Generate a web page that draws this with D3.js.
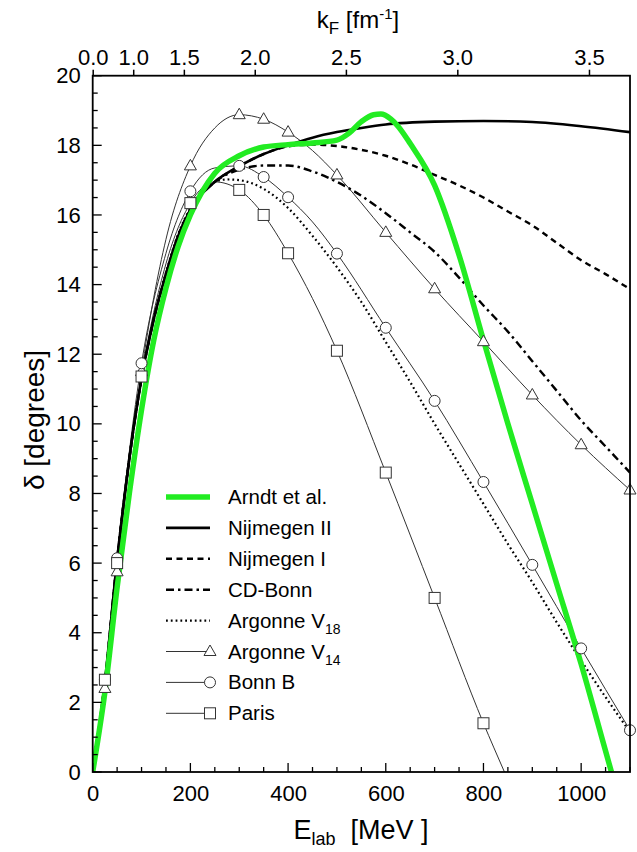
<!DOCTYPE html>
<html><head><meta charset="utf-8">
<script src="https://cdn.jsdelivr.net/npm/d3@7"></script>
<style>body{margin:0;background:#fff}svg{display:block}text{font-family:"Liberation Sans",Arial,Helvetica,sans-serif}</style>
</head><body><svg id="c" width="637" height="852"></svg>
<script>
// ---- data (E_lab in MeV, phase shift in degrees) ----
const arndt = [[0,0],[25,2.3],[50,5.3],[75,8.0],[100,10.4],[125,12.4],[150,13.9],[175,15.1],[200,16.0],[250,17.2],[300,17.7],[350,17.95],[400,18.02],[450,18.07],[500,18.15],[525,18.35],[550,18.68],[575,18.88],[590,18.9],[610,18.76],[625,18.55],[650,18.05],[700,16.85],[750,14.85],[800,12.4],[850,10.0],[900,7.7],[950,5.4],[1000,3.1],[1050,0.6],[1062,0]];
const nijmegen2 = [[0,0],[25,2.6],[50,6.1],[75,9.0],[100,11.3],[125,13.0],[150,14.3],[175,15.4],[200,16.15],[250,16.95],[300,17.4],[350,17.75],[400,18.0],[450,18.22],[500,18.38],[550,18.5],[600,18.6],[700,18.68],[800,18.7],[900,18.67],[1000,18.55],[1100,18.38]];
const nijmegen1 = [[0,0],[25,2.6],[50,6.1],[75,9.0],[100,11.3],[125,13.0],[150,14.3],[175,15.4],[200,16.15],[250,16.95],[300,17.4],[350,17.75],[400,17.97],[450,18.02],[500,17.98],[550,17.87],[600,17.7],[650,17.45],[700,17.15],[750,16.85],[800,16.5],[850,16.1],[900,15.7],[950,15.2],[1000,14.7],[1050,14.3],[1100,13.87]];
const cdBonn = [[0,0],[25,2.6],[50,6.1],[75,9.0],[100,11.3],[125,13.0],[150,14.3],[175,15.4],[200,16.15],[250,16.95],[300,17.3],[350,17.42],[400,17.42],[450,17.25],[500,16.95],[550,16.55],[600,16.05],[650,15.5],[700,14.94],[750,14.2],[800,13.4],[850,12.65],[900,11.8],[950,10.95],[1000,10.1],[1050,9.35],[1100,8.6]];
const argonne18 = [[0,0],[25,2.6],[50,6.1],[75,9.0],[100,11.3],[125,13.0],[150,14.35],[175,15.45],[200,16.2],[250,16.95],[275,17.02],[300,17.0],[350,16.75],[400,16.2],[450,15.4],[500,14.5],[550,13.5],[600,12.35],[650,11.2],[700,10.0],[750,8.85],[800,7.7],[850,6.55],[900,5.45],[950,4.3],[1000,3.2],[1050,2.15],[1100,1.15]];
const argonne14 = [[0,0],[25,2.4],[50,5.75],[100,11.5],[150,15.3],[200,17.41],[250,18.5],[300,18.88],[350,18.75],[400,18.38],[450,17.85],[500,17.15],[600,15.5],[700,13.88],[800,12.36],[900,10.83],[1000,9.4],[1100,8.1]];
const bonnB = [[0,0],[25,2.65],[50,6.14],[100,11.74],[150,14.9],[200,16.68],[250,17.35],[300,17.41],[350,17.09],[400,16.51],[450,15.8],[500,14.89],[600,12.76],[700,10.66],[800,8.33],[900,5.95],[1000,3.55],[1100,1.2]];
const paris = [[0,0],[25,2.65],[50,6.0],[100,11.36],[150,14.6],[200,16.34],[250,16.95],[300,16.72],[350,16.0],[400,14.9],[450,13.6],[500,12.1],[600,8.6],[700,5.0],[800,1.4],[843,0]];
const markerE14 = [25,50,100,200,300,350,400,500,600,700,800,900,1000,1100];
const markerEB = [25,50,100,200,300,350,400,500,600,700,800,900,1000,1100];
const markerEP = [25,50,100,200,300,350,400,500,600,700,800];
const xTicks = [0,200,400,600,800,1000];
const yTicks = [0,2,4,6,8,10,12,14,16,18,20];
const kTicks = [0.0,1.0,1.5,2.0,2.5,3.0,3.5];
const legendNames = ["Arndt et al.","Nijmegen II","Nijmegen I","CD-Bonn","Argonne V|18","Argonne V|14","Bonn B","Paris"];

// ---- layout ----
const L=92.7, R=630, T=75.7, B=772;
const svg=d3.select("#c");
const x=d3.scaleLinear().domain([0,1100]).range([L,R]);
const y=d3.scaleLinear().domain([0,20]).range([B,T]);
const C=82.94; // E_lab = C k_F^2
const k=d3.scalePow().exponent(2).domain([0,Math.sqrt(1100/C)]).range([L,R]);

svg.append("clipPath").attr("id","clip").append("rect").attr("x",L).attr("y",T).attr("width",R-L).attr("height",B-T);
const g=svg.append("g").attr("clip-path","url(#clip)");
const line=d3.line().x(d=>x(d[0])).y(d=>y(d[1])).curve(d3.curveMonotoneX);

const styles=[
 {data:arndt,stroke:"#22ec22",w:5.5,dash:null},
 {data:nijmegen2,stroke:"#000",w:2.6,dash:null},
 {data:nijmegen1,stroke:"#000",w:2.4,dash:"6,4.5"},
 {data:cdBonn,stroke:"#000",w:2.4,dash:"8,4,2.5,4"},
 {data:argonne18,stroke:"#000",w:2.2,dash:"1.8,3"},
 {data:argonne14,stroke:"#333",w:1,dash:null,m:"tri",me:markerE14},
 {data:bonnB,stroke:"#333",w:1,dash:null,m:"circ",me:markerEB},
 {data:paris,stroke:"#333",w:1,dash:null,m:"sq",me:markerEP}
];
const order=[5,6,7,4,3,2,1,0];
order.forEach(i=>{const s=styles[i];
 g.append("path").datum(s.data).attr("d",line).attr("fill","none").attr("stroke",s.stroke).attr("stroke-width",s.w).attr("stroke-dasharray",s.dash);
});
function marker(sel,type,cx,cy){
 if(type==="tri") sel.append("path").attr("d",`M${cx},${cy-6.5}L${cx+6},${cy+4}L${cx-6},${cy+4}Z`).attr("fill","#fff").attr("stroke","#333").attr("stroke-width",1);
 else if(type==="circ") sel.append("circle").attr("cx",cx).attr("cy",cy).attr("r",5.5).attr("fill","#fff").attr("stroke","#333").attr("stroke-width",1);
 else sel.append("rect").attr("x",cx-5.5).attr("y",cy-5.5).attr("width",11).attr("height",11).attr("fill","#fff").attr("stroke","#333").attr("stroke-width",1);
}
const mg=svg.append("g");
[5,6,7].forEach(i=>{const s=styles[i];
 s.data.filter(d=>s.me.includes(d[0])).forEach(d=>marker(mg,s.m,x(d[0]),y(d[1])));
});

// ---- axes ----
const fs=22;
const ax=svg.append("g");
ax.append("rect").attr("x",L).attr("y",T).attr("width",R-L).attr("height",B-T).attr("fill","none").attr("stroke","#000").attr("stroke-width",1.8);
d3.range(0,1101,50).forEach(v=>{const big=v%200===0;
 ax.append("line").attr("x1",x(v)).attr("x2",x(v)).attr("y1",B).attr("y2",B-(big?9:5)).attr("stroke","#000").attr("stroke-width",1.3);});
const xl=svg.append("g").attr("transform",`translate(0,${B})`).call(d3.axisBottom(x).tickValues(xTicks).tickSize(0).tickPadding(13).tickFormat(d3.format("d")));
xl.select(".domain").remove();
xl.selectAll("text").attr("font-size",fs).attr("fill","#000").style("font-family","Liberation Sans, Arial, sans-serif");
d3.range(0,20.01,0.5).forEach(v=>{const big=Math.abs(v%2)<1e-6;
 ax.append("line").attr("x1",L).attr("x2",L+(big?9:5)).attr("y1",y(v)).attr("y2",y(v)).attr("stroke","#000").attr("stroke-width",1.3);});
const yl=svg.append("g").attr("transform",`translate(${L},0)`).call(d3.axisLeft(y).tickValues(yTicks).tickSize(0).tickPadding(12).tickFormat(d3.format("d")));
yl.select(".domain").remove();
yl.selectAll("text").attr("font-size",fs).attr("fill","#000").style("font-family","Liberation Sans, Arial, sans-serif");
const kt=svg.append("g").attr("transform",`translate(0,${T})`).call(d3.axisTop(k).tickValues(kTicks).tickSize(6).tickPadding(5).tickFormat(d3.format(".1f")));
kt.select(".domain").remove();
kt.selectAll(".tick line").attr("stroke","#000").attr("stroke-width",1.5);
kt.selectAll("text").attr("font-size",fs).attr("fill","#000").style("font-family","Liberation Sans, Arial, sans-serif");

// ---- titles ----
const t1=svg.append("text").attr("x",361).attr("y",839).attr("text-anchor","middle").attr("font-size",27);
t1.append("tspan").text("E");
t1.append("tspan").attr("font-size",18).attr("dy",6).text("lab");
t1.append("tspan").attr("dy",-6).text("\u00a0\u00a0[MeV ]");
const t2=svg.append("text").attr("transform","translate(44,420) rotate(-90)").attr("text-anchor","middle").attr("font-size",28).text("\u03b4 [degrees]");
const t3=svg.append("text").attr("x",358).attr("y",28).attr("text-anchor","middle").attr("font-size",24);
t3.append("tspan").text("k");
t3.append("tspan").attr("font-size",17).attr("dy",6).text("F");
t3.append("tspan").attr("dy",-6).text(" [fm");
t3.append("tspan").attr("font-size",15).attr("dy",-9).text("-1");
t3.append("tspan").attr("dy",9).text("]");

// ---- legend ----
const lg=svg.append("g");
const ly0=497, ldy=30.9, lx1=166, lx2=210, ltx=228;
legendNames.forEach((n,i)=>{const s=styles[i]; const yy=ly0+i*ldy;
 lg.append("line").attr("x1",lx1).attr("x2",lx2).attr("y1",yy).attr("y2",yy).attr("stroke",s.stroke).attr("stroke-width",s.w).attr("stroke-dasharray",s.dash);
 if(s.m) marker(lg,s.m,lx2,yy);
 const t=lg.append("text").attr("x",ltx).attr("y",yy+7).attr("font-size",20.5);
 const parts=n.split("|");
 t.append("tspan").text(parts[0]);
 if(parts[1]) t.append("tspan").attr("font-size",14).attr("dy",6).text(parts[1]);
});
</script></body></html>
